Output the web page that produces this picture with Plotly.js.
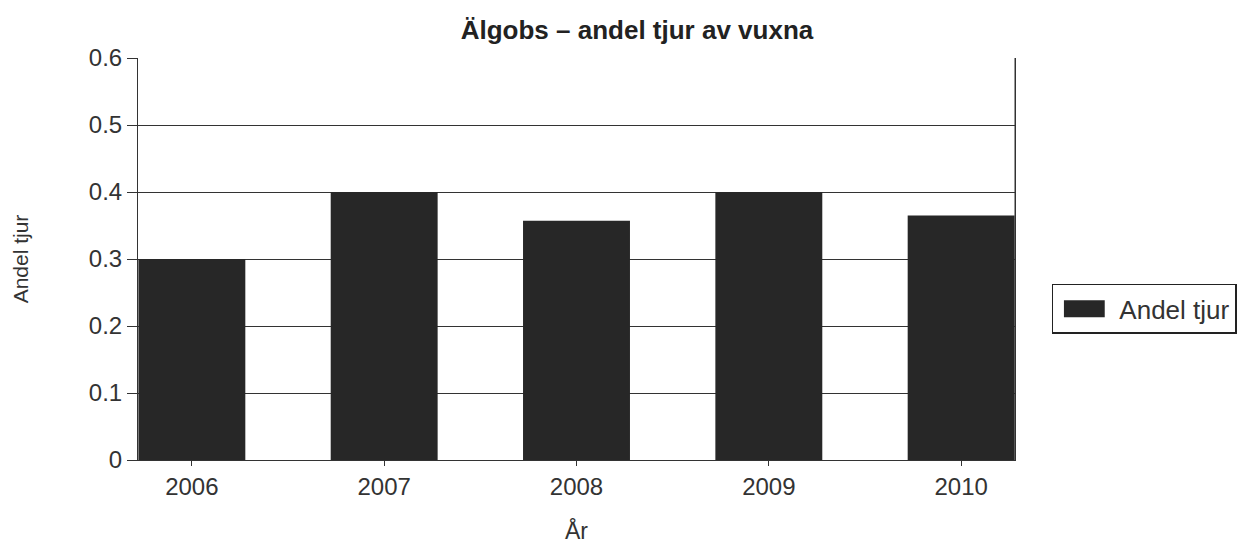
<!DOCTYPE html>
<html>
<head>
<meta charset="utf-8">
<script src="https://cdn.plot.ly/plotly-3.0.1.min.js"></script>
<style>html,body{margin:0;padding:0;background:#fff;}#chart{width:1249px;height:544px;}</style>
</head>
<body>
<div id="chart"></div>
<script>
const years = ['2006', '2007', '2008', '2009', '2010'];
const andelTjur = [0.30, 0.40, 0.357, 0.40, 0.365];
const seriesName = 'Andel tjur';
const yTicks = [0, 0.1, 0.2, 0.3, 0.4, 0.5, 0.6];
const yTickLabels = ['0', '0.1', '0.2', '0.3', '0.4', '0.5', '0.6'];

const font = 'Liberation Sans, Arial, sans-serif';
const txt = '#333';

Plotly.newPlot('chart', [{
  type: 'bar',
  x: years,
  y: andelTjur,
  name: seriesName,
  marker: {color: '#272727', line: {width: 0}},
  showlegend: true
}], {
  width: 1249, height: 544,
  paper_bgcolor: '#fff', plot_bgcolor: '#fff',
  margin: {l: 138, r: 234, t: 58, b: 84},
  bargap: 0.444,
  title: {text: 'Älgobs – andel tjur av vuxna', x: 0.51, xanchor: 'center', y: 0.945, yanchor: 'middle',
          font: {family: font, size: 26, color: '#222', weight: 'bold'}},
  xaxis: {
    type: 'category', range: [-0.28, 4.28],
    showgrid: false, showline: true, linecolor: '#333', linewidth: 1, mirror: false,
    ticks: 'outside', ticklen: 5, tickcolor: '#333',
    tickfont: {family: font, size: 24, color: txt},
    title: {text: 'År', font: {family: font, size: 23, color: txt}, standoff: 24},
    fixedrange: true
  },
  yaxis: {
    range: [0, 0.6], tickvals: yTicks, ticktext: yTickLabels,
    showgrid: true, gridcolor: '#333', gridwidth: 1,
    showline: true, linecolor: '#333', linewidth: 1, mirror: true,
    ticks: 'outside', ticklen: 10, tickcolor: '#333',
    tickfont: {family: font, size: 24, color: txt},
    title: {text: 'Andel tjur', font: {family: font, size: 21, color: txt}, standoff: 54},
    zeroline: false
  },
  shapes: [{type: 'line', xref: 'paper', yref: 'paper', x0: 1, x1: 1, y0: 0, y1: 1, line: {color: '#333', width: 1}}],
  legend: {
    x: 1.042, xanchor: 'left', y: 0.376, yanchor: 'middle',
    bordercolor: '#222', borderwidth: 1.5, bgcolor: '#fff',
    font: {family: font, size: 26, color: txt},
    itemwidth: 56
  }
}, {displayModeBar: false, staticPlot: true}).then(function () {
  document.querySelectorAll('.legendpoints path').forEach(function (p) {
    p.setAttribute('transform', 'translate(31,0) scale(3.4,1.4)');
  });
});
</script>
</body>
</html>
